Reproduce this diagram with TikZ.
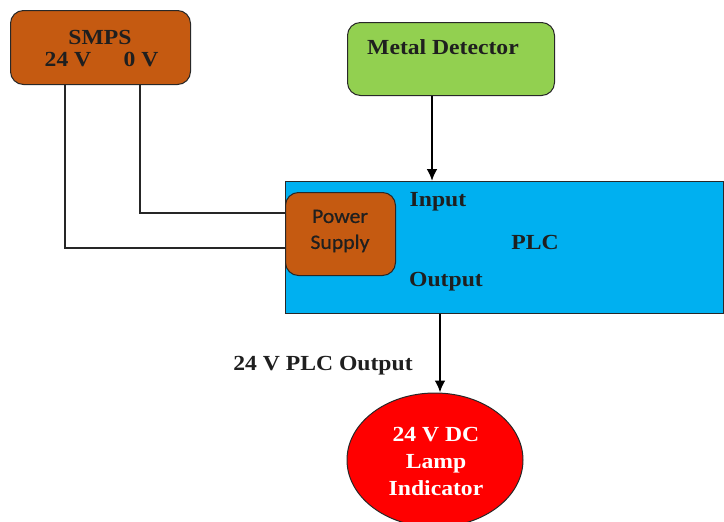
\documentclass[tikz,border=0pt]{standalone}
\usepackage{fontspec}
\setmainfont[FakeStretch=1.1]{Liberation Serif}
\newfontfamily\calib[FakeStretch=1.06,FakeBold=0.6]{Carlito}
\usetikzlibrary{arrows.meta,shapes.geometric}
\definecolor{smpsorange}{RGB}{197,90,17}
\definecolor{mdgreen}{RGB}{146,208,80}
\definecolor{plcblue}{RGB}{0,176,240}
\definecolor{lampred}{RGB}{255,0,0}
\definecolor{edgegray}{RGB}{40,40,40}
\tikzset{
  rbox/.style={draw=edgegray, line width=1pt, rounded corners=13pt},
  lbl/.style={font=\fontsize{21.5}{26}\selectfont\bfseries, text=black!88},
  wire/.style={line width=1.3pt, black!85},
  arr/.style={line width=2.4pt, -{Latex[length=12pt,width=11pt]}}
}
\begin{document}
\begin{tikzpicture}[x=1pt,y=-1pt]
\useasboundingbox (0,0) rectangle (724,522);
% SMPS
\node[rbox, fill=smpsorange, minimum width=180pt, minimum height=74pt, anchor=north west] (smps) at (10,10) {};
\node[lbl] (smpst) at (100,37) {SMPS};
\node[lbl] (v24) at (68,60) {24 V};
\node[lbl] (v0) at (141,60) {0 V};
% Metal detector
\node[rbox, fill=mdgreen, minimum width=207pt, minimum height=73pt, anchor=north west] (md) at (347,22) {};
\node[lbl] (mdt) at (443,47) {Metal Detector};
% PLC
\node[draw=edgegray, line width=1pt, fill=plcblue, minimum width=438pt, minimum height=132pt, anchor=north west] (plc) at (285,181) {};
\node[rbox, fill=smpsorange, minimum width=110pt, minimum height=83pt, anchor=north west] (ps) at (285,192) {};
\node[font=\calib\fontsize{20.5}{25}\selectfont, text=black!88, align=center] (pst) at (340,231) {Power\\[1pt]Supply};
\node[lbl] (inp) at (438,202) {Input};
\node[lbl] (plct) at (535,242) {PLC};
\node[lbl] (outp) at (446,282) {Output};
% Lamp
\node[ellipse, draw=edgegray, line width=1pt, fill=lampred, minimum width=176pt, minimum height=134pt] (lamp) at (435,460) {};
\node[font=\fontsize{21.5}{27}\selectfont\bfseries, text=white, align=center] (lampt) at (436,461) {24 V DC\\Lamp\\Indicator};
\node[lbl] (plcout) at (323,366) {24 V PLC Output};
% wires
\coordinate (a24) at (65,84);
\coordinate (a0) at (140,84);
\draw[wire] (a24) |- (ps.west |- 0,248);
\draw[wire] (a0) |- (ps.west |- 0,213);
% arrows
\draw[arr] (md.south -| 432,0) -- (plc.north -| 432,0);
\draw[arr] (plc.south -| 440,0) -- (lamp.north -| 440,0);
\end{tikzpicture}
\end{document}
